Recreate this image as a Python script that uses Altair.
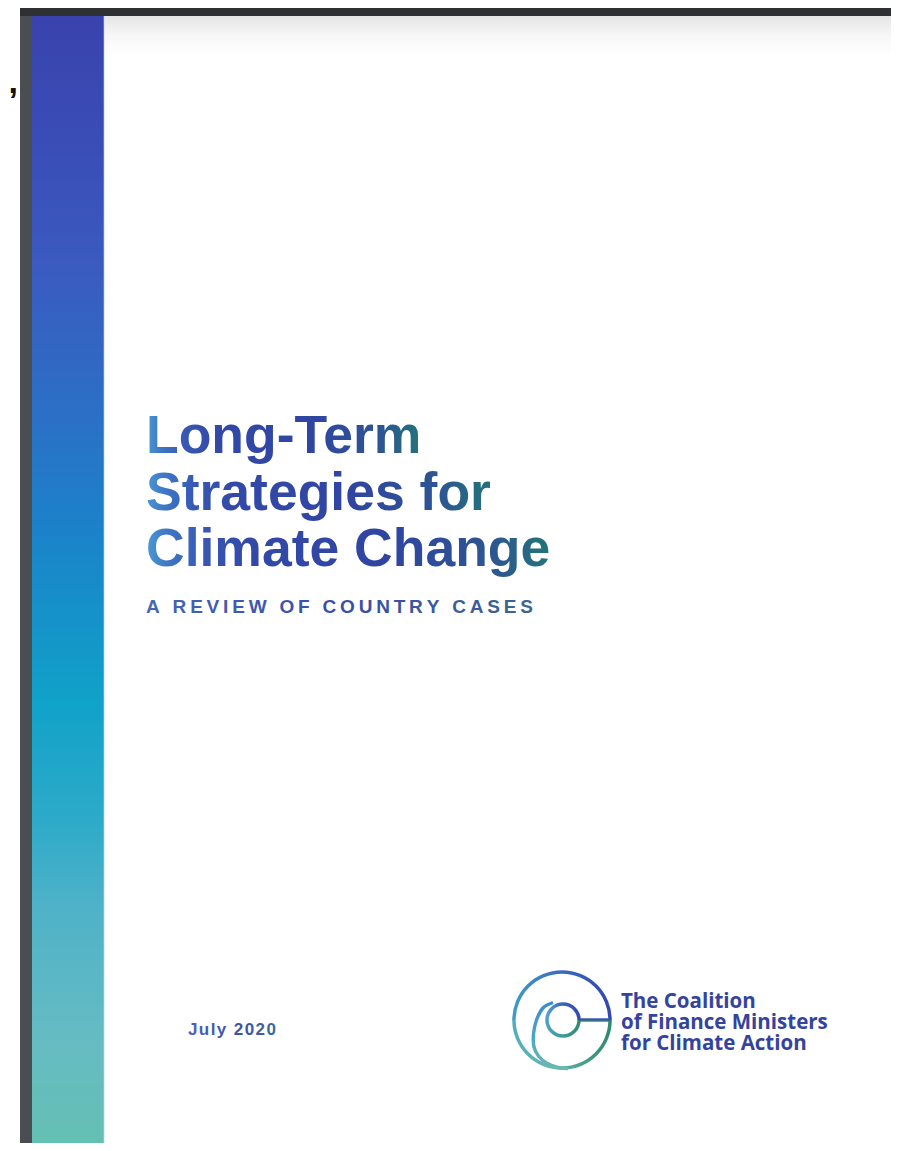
import altair as alt
import pandas as pd

# ---------------- content ----------------
title_lines = ["Long-Term", "Strategies for", "Climate Change"]
subtitle_text = ["A REVIEW OF COUNTRY CASES"]
date_text = ["July 2020"]
logo_lines = ["The Coalition", "of Finance Ministers", "for Climate Action"]
stray_mark = [","]

# ---------------- layout ----------------
W, H = 883, 1135          # chart size in px
X0, Y0 = 8, 8             # page offset of the chart (body margin)

xs = alt.Scale(domain=[X0, X0 + W], nice=False, zero=False)
ys = alt.Scale(domain=[Y0, Y0 + H], nice=False, zero=False, reverse=True)


def grad(stops, x1=0, y1=0, x2=1, y2=0):
    return alt.LinearGradient(
        gradient="linear",
        stops=[alt.GradientStop(color=c, offset=o) for o, c in stops],
        x1=x1, y1=y1, x2=x2, y2=y2,
    )


def enc_xy(ch, x="x", y="y"):
    return ch.encode(
        x=alt.X(f"{x}:Q", scale=xs, axis=None),
        y=alt.Y(f"{y}:Q", scale=ys, axis=None),
    )


def rect(x1, x2, y1, y2, fill, **kw):
    df = pd.DataFrame({"x": [x1], "x2": [x2], "y": [y1], "y2": [y2]})
    return alt.Chart(df).mark_rect(fill=fill, clip=True, **kw).encode(
        x=alt.X("x:Q", scale=xs, axis=None), x2="x2",
        y=alt.Y("y:Q", scale=ys, axis=None), y2="y2",
    )


def spaced(s, sep):
    return sep.join(list(s))


layers = []

# frame of the viewer
layers.append(rect(20, 32, 5, 1160, "#4a4d51"))
layers.append(rect(20, 905, 5, 16, "#2e3033"))
# shadow under the top bar
layers.append(rect(104, 905, 16, 56, grad([(0, "rgba(0,0,0,0.10)"), (0.5, "rgba(0,0,0,0.03)"), (1, "rgba(0,0,0,0)")], 0, 0, 0, 1)))

# gradient strip
strip_stops = [
    (0.00, "#3a43ad"), (0.12, "#3a4eb8"), (0.22, "#3a5bbf"), (0.35, "#2b70c6"),
    (0.45, "#1b82ca"), (0.60, "#10a2c8"), (0.70, "#2caac8"), (0.78, "#4fb2c8"),
    (0.90, "#66bcc2"), (1.00, "#64c0b0"),
]
layers.append(rect(32, 104, 16, 1160, grad(strip_stops, 0, 0, 0, 1)))
layers.append(rect(103.6, 104.8, 16, 1160, "#cfe0f7", opacity=0.7))

# stray comma at left edge
comma_df = pd.DataFrame({"t": stray_mark, "x": [8.5], "y": [93]})
layers.append(enc_xy(alt.Chart(comma_df).mark_text(
    align="left", baseline="alphabetic", font="Liberation Sans", fontWeight="bold",
    fontSize=34, color="#111111"
)).encode(text="t:N"))

# title
title_df = pd.DataFrame({"t": title_lines, "i": list(range(len(title_lines)))})
title_grad = grad([
    (0.0, "#4a9ad4"), (0.05, "#3f78c6"), (0.14, "#3858b4"), (0.25, "#3349a8"),
    (0.6, "#3045a2"), (0.85, "#2d5592"), (1.0, "#237479"),
])
layers.append(alt.Chart(title_df).transform_calculate(
    x="146", y="453 + datum.i * 56.5"
).mark_text(
    align="left", baseline="alphabetic", font="Liberation Sans", fontWeight="bold",
    fontSize=53.5, fill=title_grad
).encode(
    x=alt.X("x:Q", scale=xs, axis=None), y=alt.Y("y:Q", scale=ys, axis=None), text="t:N"
))

# subtitle
sub_df = pd.DataFrame({"t": [spaced(s, "\u2009") for s in subtitle_text]})
layers.append(alt.Chart(sub_df).transform_calculate(x="146", y="613").mark_text(
    align="left", baseline="alphabetic", font="Liberation Sans", fontWeight="bold",
    fontSize=19, fill=grad([(0, "#4566b6"), (0.5, "#3a4ca8"), (1, "#3a6690")])
).encode(
    x=alt.X("x:Q", scale=xs, axis=None), y=alt.Y("y:Q", scale=ys, axis=None), text="t:N"
))

# date
date_df = pd.DataFrame({"t": [spaced(s, "\u200A") for s in date_text]})
layers.append(alt.Chart(date_df).transform_calculate(x="188", y="1035").mark_text(
    align="left", baseline="alphabetic", font="Liberation Sans", fontWeight="bold",
    fontSize=17, fill=grad([(0, "#4a62b8"), (0.6, "#3a52a8"), (1, "#3a6a98")])
).encode(
    x=alt.X("x:Q", scale=xs, axis=None), y=alt.Y("y:Q", scale=ys, axis=None), text="t:N"
))

# logo: outer ring, inner ring, bar, spiral
PI = 3.141592653589793
top_outer = grad([(0, "#3d9dca"), (0.45, "#3a6ec0"), (1, "#3446b0")])
bot_outer = grad([(0, "#50aebb"), (0.4, "#68b8b0"), (0.7, "#4a9f90"), (1, "#2b8a6c")])
top_inner = grad([(0, "#5aa6d0"), (0.5, "#3a62bc"), (1, "#3446b0")])
bot_inner = grad([(0, "#4aa2c0"), (0.5, "#3f9a9a"), (1, "#2b8a6c")])

ring_specs = [
    (562, 1020, 49.8, 46.3, 1.5 * PI, 2.5 * PI, top_outer),
    (562, 1020, 49.8, 46.3, 0.5 * PI, 1.5 * PI, bot_outer),
    (563, 1020, 17.8, 14.3, 1.5 * PI, 2.5 * PI, top_inner),
    (563, 1020, 17.8, 14.3, 0.5 * PI, 1.5 * PI, bot_inner),
]
for cx, cy, r, r2, t1, t2, g in ring_specs:
    df = pd.DataFrame({"x": [cx], "y": [cy]})
    layers.append(enc_xy(alt.Chart(df).mark_arc(
        radius=r, radius2=r2, theta=t1, theta2=t2, fill=g
    )))

layers.append(rect(579, 610.5, 1018.3, 1021.7, grad([(0, "#3446b0"), (0.5, "#31668f"), (1, "#2b8a6c")], 0, 0, 0, 1)))

spiral_x = [553, 543, 536.5, 533.5, 534, 538.5, 546.5, 558, 568]
spiral_y = [1002.5, 1008, 1020, 1034, 1047, 1056, 1063, 1067.5, 1068.5]
spiral_df = pd.DataFrame({"x": spiral_x, "y": spiral_y, "o": list(range(len(spiral_x)))})
layers.append(alt.Chart(spiral_df).mark_line(
    interpolate="cardinal", strokeWidth=3.4,
    stroke=grad([(0, "#3d8ccc"), (0.5, "#48a6c4"), (1, "#6ab8b0")], 0, 0, 0, 1)
).encode(
    x=alt.X("x:Q", scale=xs, axis=None), y=alt.Y("y:Q", scale=ys, axis=None), order="o:Q"
))

# logo text
logo_df = pd.DataFrame({"t": logo_lines, "i": list(range(len(logo_lines)))})
layers.append(alt.Chart(logo_df).transform_calculate(
    x="621", y="1007.5 + datum.i * 21"
).mark_text(
    align="left", baseline="alphabetic", font="Open Sans", fontWeight="bold",
    fontSize=20.5, color="#33439e"
).encode(
    x=alt.X("x:Q", scale=xs, axis=None), y=alt.Y("y:Q", scale=ys, axis=None), text="t:N"
))

chart = alt.layer(*layers).properties(
    width=W, height=H, padding=0,
    autosize=alt.AutoSizeParams(type="none"),
).configure_view(stroke=None)

chart.save("out.html", embed_options={"renderer": "svg", "actions": False})
